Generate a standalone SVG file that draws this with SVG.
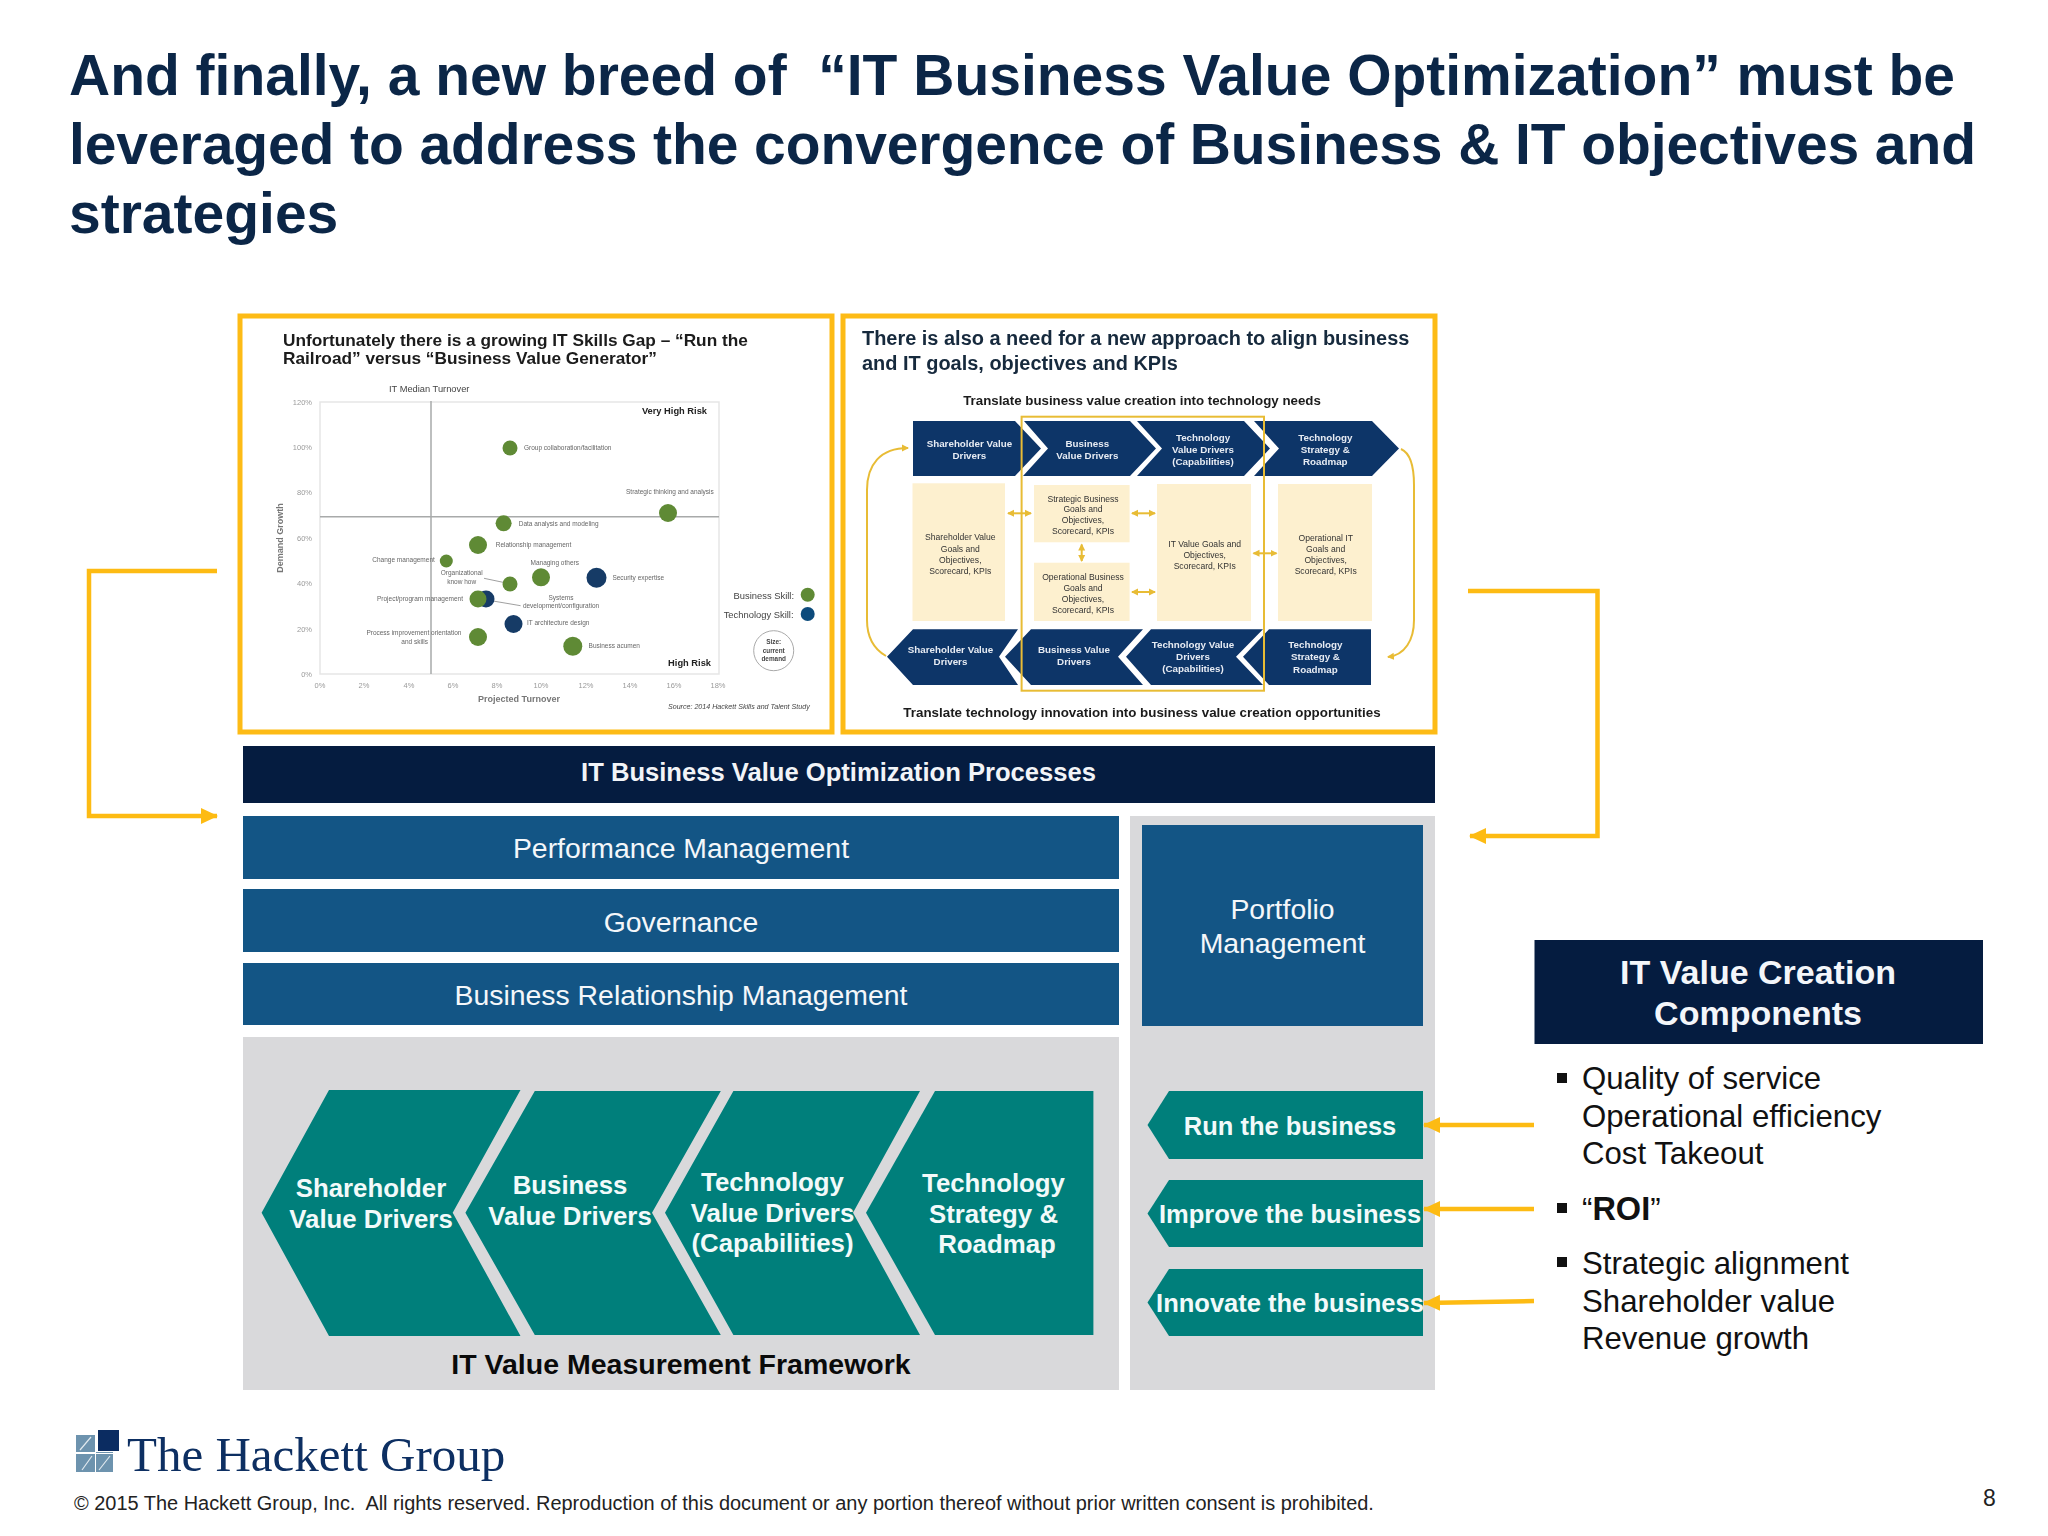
<svg xmlns="http://www.w3.org/2000/svg" width="2048" height="1536" viewBox="0 0 2048 1536">
<style>
text{font-family:"Liberation Sans",Arial,sans-serif;white-space:pre}
.m{text-anchor:middle}.e{text-anchor:end}.b{font-weight:bold}
.title{font-size:57px;font-weight:bold;fill:#0b2647}
.frame{fill:#fff;stroke:#fdbb13;stroke-width:5}
.bar{fill:#135585}.barT{font-size:28.4px;fill:#f4f7fa;text-anchor:middle}
.grey{fill:#d9d9db}.teal{fill:#007f7b}
.tealT{font-size:25.8px;font-weight:bold;fill:#f2fafa;text-anchor:middle}
.bus{font-size:25.5px;font-weight:bold;fill:#f2fafa;text-anchor:middle}
.li{font-size:31.2px;fill:#111}
.bul{fill:#111}
.yl{fill:none;stroke:#fdbb13;stroke-width:4.5}
.tn{fill:none;stroke:#e8bc35;stroke-width:2}
.ax{font-size:7.5px;fill:#9a9a9a}
.lab{font-size:6.5px;fill:#666}
.gb{fill:#5f8a35}.nb{fill:#123a66}
.line{stroke:#a8aaaa;stroke-width:1.5;fill:none}
.nv{fill:#0f3468}
.nvT{font-size:9.8px;font-weight:bold;fill:#e6ecf3;text-anchor:middle}
.cr{fill:#fdf0cf}
.crT{font-size:8.6px;fill:#333;text-anchor:middle}
</style>
<defs>
<marker id="big" markerUnits="userSpaceOnUse" markerWidth="18" markerHeight="18" refX="16" refY="8" orient="auto"><path d="M0 0L17 8L0 16Z" fill="#fdbb13"/></marker>
<marker id="sm" markerUnits="userSpaceOnUse" markerWidth="8" markerHeight="8" refX="6" refY="4" orient="auto-start-reverse"><path d="M0 0.5L7 4L0 7.5Z" fill="#e8bc35"/></marker>
<filter id="soft" x="-2%" y="-2%" width="104%" height="104%"><feGaussianBlur stdDeviation="0.4"/></filter>
</defs>
<rect width="2048" height="1536" fill="#fff"/>
<g id="title">
<text class="title" x="69" y="95" textLength="1886" lengthAdjust="spacing">And finally, a new breed of  “IT Business Value Optimization” must be</text>
<text class="title" x="69" y="164" textLength="1907" lengthAdjust="spacing">leveraged to address the convergence of Business &amp; IT objectives and</text>
<text class="title" x="69" y="232.5">strategies</text>
</g>
<g id="skills-gap-panel" filter="url(#soft)">
<rect class="frame" x="240" y="316" width="592" height="416"/>
<text class="b" font-size="17.25" fill="#1a1a1a" x="283" y="346">Unfortunately there is a growing IT Skills Gap – “Run the</text>
<text class="b" font-size="17.25" fill="#1a1a1a" x="283" y="364">Railroad” versus “Business Value Generator”</text>
<text font-size="9.3" fill="#444" x="389" y="392">IT Median Turnover</text>
<rect x="320" y="402" width="399" height="272" fill="#fff" stroke="#e6e6e6" stroke-width="1.5"/>
<path class="line" d="M431 401V674M320 516.7H719"/>
<g class="ax">
<text class="e" x="312" y="405">120%</text><text class="e" x="312" y="450">100%</text><text class="e" x="312" y="495">80%</text><text class="e" x="312" y="541">60%</text><text class="e" x="312" y="586">40%</text><text class="e" x="312" y="632">20%</text><text class="e" x="312" y="677">0%</text>
<text class="m" x="320" y="688">0%</text><text class="m" x="364" y="688">2%</text><text class="m" x="409" y="688">4%</text><text class="m" x="453" y="688">6%</text><text class="m" x="497" y="688">8%</text><text class="m" x="541" y="688">10%</text><text class="m" x="586" y="688">12%</text><text class="m" x="630" y="688">14%</text><text class="m" x="674" y="688">16%</text><text class="m" x="718" y="688">18%</text>
</g>
<text class="m b" font-size="9" fill="#777" x="519" y="702">Projected Turnover</text>
<text class="m b" font-size="9" fill="#777" transform="translate(283 538) rotate(-90)">Demand Growth</text>
<text class="e b" font-size="9.3" fill="#222" x="707" y="414">Very High Risk</text>
<text class="e b" font-size="9.3" fill="#222" x="711" y="666">High Risk</text>
<path d="M484 578.3L503 582.3M493 601L520.6 605.7" stroke="#888" stroke-width="0.8" fill="none"/>
<circle class="nb" cx="486" cy="599" r="8.5"/>
<circle class="gb" cx="510" cy="448" r="7.5"/><circle class="gb" cx="668" cy="513" r="9"/><circle class="gb" cx="503.6" cy="523.3" r="8"/><circle class="gb" cx="478" cy="545" r="9"/><circle class="gb" cx="446.3" cy="561" r="6.5"/><circle class="gb" cx="510" cy="584" r="7.5"/><circle class="gb" cx="541" cy="577.3" r="9"/><circle class="nb" cx="596.5" cy="577.7" r="10"/><circle class="gb" cx="478" cy="599" r="8.5"/><circle class="nb" cx="513.5" cy="624" r="9"/><circle class="gb" cx="478" cy="637" r="9"/><circle class="gb" cx="572.8" cy="646.3" r="9.5"/>
<g class="lab">
<text x="524" y="450">Group collaboration/facilitation</text>
<text x="626" y="494">Strategic thinking and analysis</text>
<text x="518.7" y="526">Data analysis and modeling</text>
<text x="495.7" y="547">Relationship management</text>
<text x="372.3" y="562">Change management</text>
<text class="m" x="461.7" y="575">Organizational</text><text class="m" x="461.7" y="584">know how</text>
<text x="530.5" y="565">Managing others</text>
<text x="612.4" y="580">Security expertise</text>
<text x="377" y="600.5">Project/program management</text>
<text class="m" x="561" y="599.5">Systems</text><text class="m" x="561" y="608">development/configuration</text>
<text x="527" y="624.5">IT architecture design</text>
<text x="366.4" y="635">Process improvement orientation</text><text class="m" x="414.7" y="644">and skills</text>
<text x="588.6" y="648">Business acumen</text>
</g>
<text class="e" font-size="9.4" fill="#444" x="794" y="599">Business Skill:</text><circle class="gb" cx="807.7" cy="594.7" r="7"/>
<text class="e" font-size="9.4" fill="#444" x="793.5" y="618.3">Technology Skill:</text><circle cx="807.7" cy="614" r="7" fill="#0e4c7c"/>
<circle cx="773.7" cy="650.7" r="20" fill="#fff" stroke="#aaa" stroke-width="1"/>
<g class="m b" font-size="6.4" fill="#444"><text x="773.7" y="644.3">Size:</text><text x="773.7" y="652.7">current</text><text x="773.7" y="661">demand</text></g>
<text font-size="7.1" font-style="italic" fill="#444" x="668" y="709">Source: 2014 Hackett Skills and Talent Study</text>
</g>
<g id="align-panel" filter="url(#soft)">
<rect class="frame" x="843" y="316" width="592" height="416"/>
<text class="b" font-size="19.95" fill="#17293d" x="862" y="345">There is also a need for a new approach to align business</text>
<text class="b" font-size="19.95" fill="#17293d" x="862" y="370">and IT goals, objectives and KPIs</text>
<text class="m b" font-size="13.3" fill="#1a1a1a" x="1142" y="405">Translate business value creation into technology needs</text>
<g id="top-chevrons">
<path class="nv" d="M913 421H1015L1041 448.5L1015 476H913Z"/>
<path class="nv" d="M1024 421H1130L1156 448.5L1130 476H1023L1048 448.5Z"/>
<path class="nv" d="M1137 421H1244L1270 448.5L1244 476H1137L1162 448.5Z"/>
<path class="nv" d="M1254 421H1372L1399 448.5L1372 476H1254L1279 448.5Z"/>
<g class="nvT"><text x="969.4" y="447">Shareholder Value</text><text x="969.4" y="459">Drivers</text><text x="1087.3" y="447">Business</text><text x="1087.3" y="459">Value Drivers</text><text x="1203" y="441">Technology</text><text x="1203" y="453">Value Drivers</text><text x="1203" y="465">(Capabilities)</text><text x="1325.3" y="441">Technology</text><text x="1325.3" y="453">Strategy &amp;</text><text x="1325.3" y="465">Roadmap</text></g>
</g>
<g id="goal-boxes">
<rect class="cr" x="912.5" y="483.3" width="92.5" height="137.7"/><rect class="cr" x="1034" y="485" width="95.6" height="57.3"/><rect class="cr" x="1034" y="562.7" width="95.6" height="58.3"/><rect class="cr" x="1157" y="484" width="94" height="137"/><rect class="cr" x="1278" y="484" width="94" height="137"/>
<g class="crT"><text x="960.3" y="540.3">Shareholder Value</text><text x="960.3" y="551.7">Goals and</text><text x="960.3" y="562.7">Objectives,</text><text x="960.3" y="573.7">Scorecard, KPIs</text>
<text x="1083" y="501.7">Strategic Business</text><text x="1083" y="512.3">Goals and</text><text x="1083" y="523.3">Objectives,</text><text x="1083" y="534.3">Scorecard, KPIs</text>
<text x="1083" y="580.3">Operational Business</text><text x="1083" y="591.3">Goals and</text><text x="1083" y="602.3">Objectives,</text><text x="1083" y="613.3">Scorecard, KPIs</text>
<text x="1204.7" y="546.7">IT Value Goals and</text><text x="1204.7" y="557.7">Objectives,</text><text x="1204.7" y="568.7">Scorecard, KPIs</text>
<text x="1325.7" y="541">Operational IT</text><text x="1325.7" y="552">Goals and</text><text x="1325.7" y="563">Objectives,</text><text x="1325.7" y="574">Scorecard, KPIs</text></g>
</g>
<g id="bottom-chevrons">
<path class="nv" d="M887 656.7L913 629.3H1018L999 656.7L1018 685H913Z"/>
<path class="nv" d="M1005 656.7L1031 629.3H1143L1118 656.7L1143 685H1031Z"/>
<path class="nv" d="M1126 656.7L1151 629.3H1263L1236 656.7L1263 685H1151Z"/>
<path class="nv" d="M1243 656.7L1269 629.3H1371V685H1269Z"/>
<g class="nvT"><text x="950.5" y="653.3">Shareholder Value</text><text x="950.5" y="665.3">Drivers</text><text x="1074" y="653.3">Business Value</text><text x="1074" y="665.3">Drivers</text><text x="1193" y="647.7">Technology Value</text><text x="1193" y="659.7">Drivers</text><text x="1193" y="671.7">(Capabilities)</text><text x="1315.4" y="648.3">Technology</text><text x="1315.4" y="660.3">Strategy &amp;</text><text x="1315.4" y="672.5">Roadmap</text></g>
</g>
<rect class="tn" x="1021.6" y="416.7" width="242.4" height="274"/>
<text class="m b" font-size="13.36" fill="#1a1a1a" x="1142" y="717">Translate technology innovation into business value creation opportunities</text>
<g id="panel-connectors" class="tn">
<path marker-start="url(#sm)" marker-end="url(#sm)" d="M1008 513.3H1031"/>
<path marker-start="url(#sm)" marker-end="url(#sm)" d="M1132 513.3H1155"/>
<path marker-start="url(#sm)" marker-end="url(#sm)" d="M1132 592H1155"/>
<path marker-start="url(#sm)" marker-end="url(#sm)" d="M1253.5 553.3H1276.5"/>
<path marker-start="url(#sm)" marker-end="url(#sm)" d="M1081.7 544.5V561"/>
<path marker-end="url(#sm)" d="M886 656C872 648 867 635 867 620V490C867 465 880 448 908 448"/>
<path marker-end="url(#sm)" d="M1401 449C1410 453 1414 465 1414 485V620C1414 640 1405 655 1388 657"/>
</g>
</g>
<g id="processes-header"><rect x="243" y="746" width="1192" height="57" fill="#051c40"/><text class="m b" font-size="25.6" fill="#f2f4f8" x="838.5" y="781">IT Business Value Optimization Processes</text></g>
<g id="performance-management"><rect class="bar" x="243" y="816" width="876" height="63"/><text class="barT" x="681" y="858">Performance Management</text></g>
<g id="governance"><rect class="bar" x="243" y="889" width="876" height="63"/><text class="barT" x="681" y="932">Governance</text></g>
<g id="business-relationship-management"><rect class="bar" x="243" y="963" width="876" height="62"/><text class="barT" x="681" y="1005">Business Relationship Management</text></g>
<g id="measurement-framework">
<rect class="grey" x="243" y="1037" width="876" height="353"/>
<path class="teal" d="M261.6 1212.7L329 1090H520.5L452.7 1212.7L520.5 1336H329Z"/>
<path class="teal" d="M465.4 1212.7L534.8 1091H720.8L652 1212.7L720.8 1335H534.8Z"/>
<path class="teal" d="M665 1212.7L733.4 1091H920L853 1212.7L920 1335H733.4Z"/>
<path class="teal" d="M866 1212.7L935 1091H1093.4V1335H935Z"/>
<g class="tealT"><text x="371" y="1197">Shareholder</text><text x="371" y="1228">Value Drivers</text><text x="570" y="1194">Business</text><text x="570" y="1225">Value Drivers</text><text x="772.5" y="1191">Technology</text><text x="772.5" y="1222">Value Drivers</text><text x="772.5" y="1252">(Capabilities)</text><text x="993.5" y="1192">Technology</text><text x="993.5" y="1223">Strategy &amp;</text><text x="997" y="1253">Roadmap</text></g>
<text class="m b" font-size="28.5" fill="#0a0a0a" x="681" y="1374">IT Value Measurement Framework</text>
</g>
<g id="right-column"><rect class="grey" x="1130" y="816" width="305" height="574"/></g>
<g id="portfolio-management"><rect class="bar" x="1142" y="825" width="281" height="201"/><text class="barT" x="1282.5" y="919">Portfolio</text><text class="barT" x="1282.5" y="953">Management</text></g>
<g id="run"><path class="teal" d="M1147.5 1125L1169 1091H1423V1159H1169Z"/><text class="bus" x="1290" y="1135">Run the business</text></g>
<g id="improve"><path class="teal" d="M1147.5 1213.5L1169 1180H1423V1247H1169Z"/><text class="bus" x="1290" y="1223">Improve the business</text></g>
<g id="innovate"><path class="teal" d="M1147.5 1302.5L1169 1269H1423V1336H1169Z"/><text class="bus" x="1290" y="1312">Innovate the business</text></g>
<g id="value-components">
<rect x="1534.5" y="940" width="448.5" height="104" fill="#051c40"/>
<text class="m b" font-size="34" fill="#f4f6fa" x="1758" y="984">IT Value Creation</text>
<text class="m b" font-size="34" fill="#f4f6fa" x="1758" y="1025">Components</text>
</g>
<g id="component-list">
<rect class="bul" x="1557" y="1073" width="10" height="10"/><rect class="bul" x="1557" y="1203" width="10" height="10"/><rect class="bul" x="1557" y="1257" width="10" height="10"/>
<g class="li"><text x="1582" y="1089">Quality of service</text><text x="1582" y="1126.5">Operational efficiency</text><text x="1582" y="1164">Cost Takeout</text><text x="1582" y="1219.5">“<tspan font-weight="bold" font-size="32.5">ROI</tspan>”</text><text x="1582" y="1274">Strategic alignment</text><text x="1582" y="1311.5">Shareholder value</text><text x="1582" y="1349">Revenue growth</text></g>
</g>
<g id="connectors" class="yl">
<path marker-end="url(#big)" d="M217 571H89V816H217"/>
<path marker-end="url(#big)" d="M1468 591H1597.5V836H1470"/>
<path marker-end="url(#big)" d="M1534 1125H1424"/>
<path marker-end="url(#big)" d="M1534 1209H1424"/>
<path marker-end="url(#big)" d="M1534 1301L1424 1303"/>
</g>
<g id="logo">
<rect x="98" y="1430" width="21" height="21" fill="#0b2c61"/>
<rect x="76" y="1435" width="19" height="17" fill="#6d93ae"/><rect x="96" y="1452" width="17" height="1" fill="#6d93ae"/><rect x="76" y="1454" width="19" height="18" fill="#6d93ae"/><rect x="96" y="1454" width="17" height="18" fill="#6d93ae"/>
<path d="M80 1450L91 1437M82 1470L92 1456M99 1470L110 1456" stroke="#dfe8ee" stroke-width="1.2"/>
<text style="font-family:'Liberation Serif',serif" font-size="49" fill="#0d2f62" x="127" y="1471">The Hackett Group</text>
</g>
<g id="footer">
<text font-size="19.96" fill="#222" x="74" y="1510">© 2015 The Hackett Group, Inc.  All rights reserved. Reproduction of this document or any portion thereof without prior written consent is prohibited.</text>
<text font-size="23" fill="#222" x="1983" y="1506">8</text>
</g>
</svg>
